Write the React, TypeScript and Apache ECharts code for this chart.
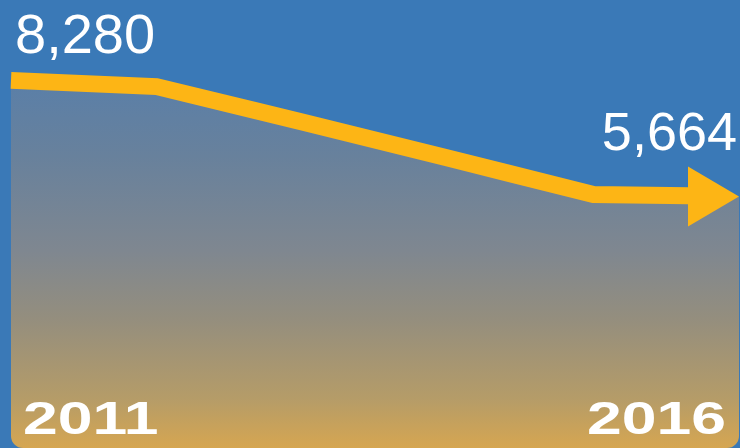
import React, { useEffect, useRef } from "react";
import * as echarts from "echarts";

const years = [2011, 2012, 2013, 2014, 2015, 2016];
const values = [8280, 8140, 7340, 6530, 5710, 5664];
const startLabel = "8,280";
const endLabel = "5,664";
const startYearLabel = "2011";
const endYearLabel = "2016";

const BG = "#3a79b7";
const ORANGE = "#fdb515";
const HEAD_FRAC = 0.345; // arrow head length in year units (style)

echarts.graphic.registerShape(
  "cornerBL",
  echarts.graphic.extendPath("M0 0 L0 12 L12 12 A12 12 0 0 1 0 0 Z", {})
);
echarts.graphic.registerShape(
  "cornerBR",
  echarts.graphic.extendPath("M12 0 L12 12 L0 12 A12 12 0 0 0 12 0 Z", {})
);

export default function App() {
  const ref = useRef<HTMLDivElement>(null);
  useEffect(() => {
    document.body.style.margin = "0";
    const chart = echarts.init(ref.current!, null, { renderer: "svg" });
    const areaData = years.map((y, i) => [y, values[i]]);
    const n = years.length;
    const lastY = years[n - 1];
    const prevY = years[n - 2];
    const lastV = values[n - 1];
    const prevV = values[n - 2];
    const shaftEndX = lastY - HEAD_FRAC;
    const t = (shaftEndX - prevY) / (lastY - prevY);
    const shaftEndV = prevV + (lastV - prevV) * t;
    const lineData = areaData.slice(0, n - 1).concat([[shaftEndX, shaftEndV]]);

    chart.setOption({
      animation: false,
      backgroundColor: BG,
      grid: { left: 11, right: 1, top: 4, bottom: -2 },
      xAxis: { type: "value", min: years[0], max: lastY, show: false },
      yAxis: { type: "value", min: 0, max: 10000, show: false },
      series: [
        {
          type: "line",
          data: areaData,
          symbol: "none",
          lineStyle: { width: 0 },
          areaStyle: {
            origin: "start",
            opacity: 1,
            color: {
              type: "linear",
              x: 0,
              y: 0,
              x2: 0,
              y2: 448,
              global: true,
              colorStops: [
                { offset: 0.18, color: "#5a7fa8" },
                { offset: 0.35, color: "#68819c" },
                { offset: 0.56, color: "#7f8790" },
                { offset: 0.71, color: "#948e7e" },
                { offset: 0.89, color: "#b59c68" },
                { offset: 1, color: "#d6a651" },
              ],
            },
          },
          z: 1,
          silent: true,
        },
        {
          type: "line",
          data: lineData,
          symbol: "none",
          lineStyle: { width: 17, color: ORANGE, cap: "butt", join: "miter" },
          z: 2,
          silent: true,
          markPoint: {
            silent: true,
            data: [
              {
                coord: [lastY, lastV],
                symbol: "triangle",
                symbolSize: [60, 51],
                symbolRotate: -90,
                symbolOffset: [-25.5, 0],
                itemStyle: { color: ORANGE },
                label: { show: false },
              },
            ],
          },
        },
      ],
      graphic: [
        {
          type: "cornerBL",
          x: 11,
          y: 436,
          style: { fill: BG },
          z: 10,
        },
        {
          type: "cornerBR",
          x: 727,
          y: 436,
          style: { fill: BG },
          z: 10,
        },
        {
          type: "text",
          x: 15,
          y: 33,
          z: 20,
          style: {
            text: startLabel,
            fill: "#ffffff",
            font: '56px "Liberation Sans", Arial, sans-serif',
            align: "left",
            textAlign: "left",
            verticalAlign: "middle",
            textVerticalAlign: "middle",
          },
        },
        {
          type: "text",
          x: 737,
          y: 131,
          z: 20,
          style: {
            text: endLabel,
            fill: "#ffffff",
            font: '54px "Liberation Sans", Arial, sans-serif',
            align: "right",
            textAlign: "right",
            verticalAlign: "middle",
            textVerticalAlign: "middle",
          },
        },
        {
          type: "text",
          x: 23,
          y: 418,
          scaleX: 1.33,
          z: 20,
          style: {
            text: startYearLabel,
            fill: "#ffffff",
            font: 'bold 47px "Liberation Sans", Arial, sans-serif',
            align: "left",
            textAlign: "left",
            verticalAlign: "middle",
            textVerticalAlign: "middle",
          },
        },
        {
          type: "text",
          x: 726,
          y: 418,
          scaleX: 1.33,
          z: 20,
          style: {
            text: endYearLabel,
            fill: "#ffffff",
            font: 'bold 47px "Liberation Sans", Arial, sans-serif',
            align: "right",
            textAlign: "right",
            verticalAlign: "middle",
            textVerticalAlign: "middle",
          },
        },
      ],
    });
    return () => chart.dispose();
  }, []);
  return (
    <div
      ref={ref}
      style={{ position: "fixed", left: 0, top: 0, width: 740, height: 448 }}
    />
  );
}
